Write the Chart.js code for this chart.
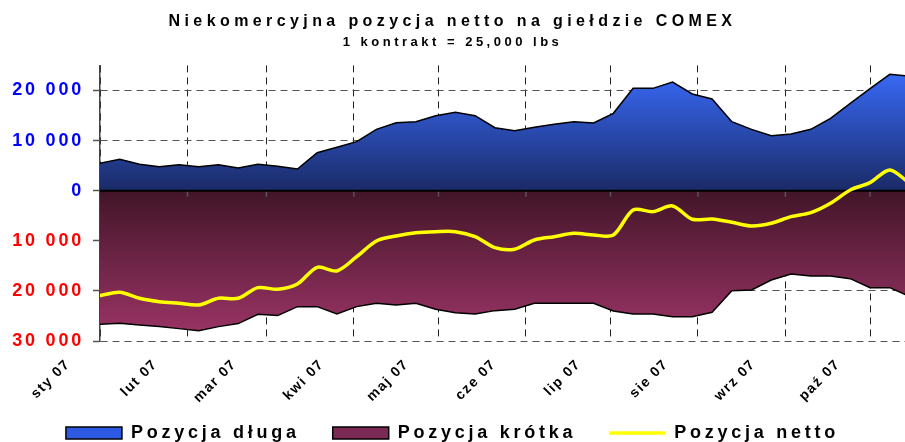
<!DOCTYPE html>
<html>
<head>
<meta charset="utf-8">
<script src="https://cdn.jsdelivr.net/npm/chart.js@4.4.1/dist/chart.umd.min.js"></script>
<style>
  html, body { margin: 0; padding: 0; background: #fff; }
  #chart { display: block; }
</style>
</head>
<body>
<canvas id="chart" width="905" height="442"></canvas>
<script>
// weekly COMEX data, x = days since 1 Jan 2007
var weekDays = [0, 7, 14, 21, 28, 35, 42, 49, 56, 63, 70, 77, 84, 91, 98, 105, 112, 119, 126, 133, 140,
  147, 154, 161, 168, 175, 182, 189, 196, 203, 210, 217, 224, 231, 238, 245, 252, 259, 266, 273, 280, 287];
var longPos = [5460, 6260, 5270, 4790, 5190, 4790, 5190, 4530, 5270, 4870, 4330, 7580, 8650, 9780, 12240,
  13570, 13770, 14970, 15640, 14970, 12570, 11970, 12640, 13240, 13770, 13500, 15440, 20420, 20420, 21680,
  19290, 18290, 13770, 12240, 10970, 11300, 12240, 14440, 17430, 20380, 23220, 22880];
var shortPos = [-26660, -26460, -26790, -27130, -27530, -27930, -27130, -26530, -24660, -24930, -23140,
  -23140, -24600, -23140, -22470, -22800, -22470, -23660, -24340, -24600, -23940, -23660, -22470, -22470,
  -22470, -22470, -24000, -24600, -24600, -25140, -25140, -24270, -19950, -19820, -17820, -16620, -17020,
  -17020, -17560, -19350, -19350, -21100];
var netPos = [-20950, -20270, -21470, -22150, -22470, -22800, -21470, -21470, -19350, -19680, -18620,
  -15290, -16020, -13170, -10040, -9040, -8380, -8180, -8180, -9180, -11370, -11690, -9840, -9180, -8510,
  -8850, -8850, -3850, -4180, -3050, -5710, -5640, -6300, -7040, -6500, -5180, -4390, -2510, 140, 1600,
  4130, 1470];
var monthDays = [0, 31, 59, 90, 120, 151, 181, 212, 243, 273];
var monthLabels = ['sty 07', 'lut 07', 'mar 07', 'kwi 07', 'maj 07', 'cze 07', 'lip 07', 'sie 07', 'wrz 07', 'paź 07'];
var yTicks = [-30000, -20000, -10000, 0, 10000, 20000];
var seriesNames = ['Pozycja długa', 'Pozycja krótka', 'Pozycja netto'];
var titleText = 'Niekomercyjna pozycja netto na giełdzie COMEX';
var subtitleText = '1 kontrakt = 25,000 lbs';

var FONT = "'Liberation Sans', Arial, sans-serif";
var legendFills = ['#2d5ae0', '#7b2a55', '#ffff00'];
var legendStrokes = ['#000', '#000', '#ffff00'];

function pts(vals) {
  return weekDays.map(function (d, i) { return { x: d, y: vals[i] }; });
}

function fmt(v) {
  return String(Math.abs(v)).replace(/\B(?=(\d{3})+(?!\d))/g, ' ');
}

function blueFill(c) {
  var chart = c.chart, a = chart.chartArea;
  if (!a) return legendFills[0];
  var y0 = chart.scales.y.getPixelForValue(0);
  var g = chart.ctx.createLinearGradient(0, a.top, 0, y0);
  g.addColorStop(0, '#3a6dff');
  g.addColorStop(1, '#1a2a66');
  return g;
}

function maroonFill(c) {
  var chart = c.chart, a = chart.chartArea;
  if (!a) return legendFills[1];
  var y0 = chart.scales.y.getPixelForValue(0);
  var g = chart.ctx.createLinearGradient(0, y0, 0, a.bottom);
  g.addColorStop(0, '#421528');
  g.addColorStop(1, '#9e3568');
  return g;
}

// letter spacing per text block (the original text is spread wide)
function wrap(obj, method, sp) {
  if (!obj || obj['_sp_' + method]) return;
  var orig = obj[method];
  obj[method] = function () {
    var ctx = this.ctx;
    var prev = ctx.letterSpacing;
    ctx.letterSpacing = sp;
    orig.apply(this, arguments);
    ctx.letterSpacing = prev;
  };
  obj['_sp_' + method] = true;
}

var spacingPlugin = {
  id: 'spacing',
  beforeUpdate: function (chart) { chart.ctx.letterSpacing = '3.75px'; },
  beforeDraw: function (chart) {
    chart.ctx.letterSpacing = '3.75px';
    wrap(chart.titleBlock, 'draw', '4.4px');
    var sub = chart.boxes.find(function (b) {
      return b !== chart.titleBlock && b.options && b.options.text === subtitleText;
    });
    wrap(sub, 'draw', '3.5px');
    wrap(chart.scales.y, 'drawLabels', '2.8px');
    wrap(chart.scales.x, 'drawLabels', '1.5px');
    // rotated month labels hang below the axis box, don't clip them
    chart.scales.x._computeLabelArea = function () { return undefined; };
  }
};

// black zero line + small tick marks under it, drawn under the yellow line
var zeroLine = {
  id: 'zeroLine',
  beforeDatasetDraw: function (chart, args) {
    if (args.index !== 2) return;
    var ctx = chart.ctx, a = chart.chartArea, x = chart.scales.x, y = chart.scales.y;
    var y0 = y.getPixelForValue(0);
    ctx.save();
    ctx.strokeStyle = '#555';
    ctx.lineWidth = 1.5;
    x.ticks.forEach(function (t, i) {
      if (!i) return;
      var px = x.getPixelForValue(t.value);
      ctx.beginPath();
      ctx.moveTo(px, y0);
      ctx.lineTo(px, y0 + 6);
      ctx.stroke();
    });
    ctx.strokeStyle = '#000';
    ctx.lineWidth = 2;
    ctx.beginPath();
    ctx.moveTo(a.left, y0);
    ctx.lineTo(a.right, y0);
    ctx.stroke();
    ctx.restore();
  }
};

var ctx = document.getElementById('chart').getContext('2d');
var chart = new Chart(ctx, {
  type: 'line',
  data: {
    datasets: [{
      label: seriesNames[0],
      data: pts(longPos),
      fill: 'origin',
      backgroundColor: blueFill,
      borderColor: '#000',
      borderWidth: 1.5,
      pointRadius: 0,
      pointStyle: 'rect',
      tension: 0,
      order: 1
    }, {
      label: seriesNames[1],
      data: pts(shortPos),
      fill: 'origin',
      backgroundColor: maroonFill,
      borderColor: '#000',
      borderWidth: 1.5,
      pointRadius: 0,
      pointStyle: 'rect',
      tension: 0,
      order: 2
    }, {
      label: seriesNames[2],
      data: pts(netPos),
      fill: false,
      borderColor: '#ffff00',
      backgroundColor: '#ffff00',
      borderWidth: 3.5,
      pointRadius: 0,
      pointStyle: 'line',
      tension: 0.3,
      order: 0
    }]
  },
  options: {
    responsive: false,
    animation: false,
    devicePixelRatio: 1,
    layout: { padding: { left: 0, right: 0, top: 0, bottom: -10 } },
    plugins: {
      title: {
        display: true,
        text: titleText,
        color: '#000',
        font: { family: FONT, size: 16, weight: 'bold' },
        padding: { top: 12, bottom: 2 }
      },
      subtitle: {
        display: true,
        text: subtitleText,
        color: '#000',
        font: { family: FONT, size: 13, weight: 'bold' },
        padding: { top: 1, bottom: 15.6 }
      },
      legend: {
        position: 'bottom',
        labels: {
          usePointStyle: true,
          pointStyleWidth: 56,
          boxHeight: 12,
          padding: 33,
          color: '#000',
          font: { family: FONT, size: 18, weight: 'bold' },
          sort: function (a, b) { return a.datasetIndex - b.datasetIndex; },
          generateLabels: function (chart) {
            var items = Chart.defaults.plugins.legend.labels.generateLabels(chart);
            items.forEach(function (it) {
              var k = it.datasetIndex;
              it.fillStyle = legendFills[k];
              it.strokeStyle = legendStrokes[k];
              it.lineWidth = k < 2 ? 1.5 : 3.5;
              it.pointStyle = k < 2 ? 'rect' : 'line';
            });
            return items;
          }
        }
      },
      tooltip: { enabled: false }
    },
    scales: {
      x: {
        type: 'linear',
        min: 0,
        max: 285.4,
        afterBuildTicks: function (s) {
          s.ticks = monthDays.map(function (v) { return { value: v }; });
        },
        afterFit: function (s) { s.height = 50; },
        grid: { color: '#222', lineWidth: 1, drawTicks: false },
        border: { display: false, dash: [7, 5] },
        ticks: {
          autoSkip: false,
          minRotation: 45,
          maxRotation: 45,
          padding: 15,
          labelOffset: -32,
          color: '#000',
          font: { family: FONT, size: 14, weight: 'bold' },
          callback: function (v, i) { return monthLabels[i]; }
        }
      },
      y: {
        min: -30000,
        max: 25000,
        afterBuildTicks: function (s) {
          s.ticks = yTicks.map(function (v) { return { value: v }; });
        },
        afterFit: function (s) { s.width = 100; },
        grid: { color: '#555', lineWidth: 1, tickLength: 7, tickColor: '#555', tickWidth: 1.5 },
        border: { display: true, color: '#444', width: 1.5, dash: [7, 5] },
        ticks: {
          padding: 9,
          font: { family: FONT, size: 18, weight: 'bold' },
          color: function (c) { return c.tick && c.tick.value < 0 ? '#ff0000' : '#0000ff'; },
          callback: function (v) { return v === 0 ? '0' : fmt(v); }
        }
      }
    }
  },
  plugins: [spacingPlugin, zeroLine]
});
</script>
</body>
</html>
